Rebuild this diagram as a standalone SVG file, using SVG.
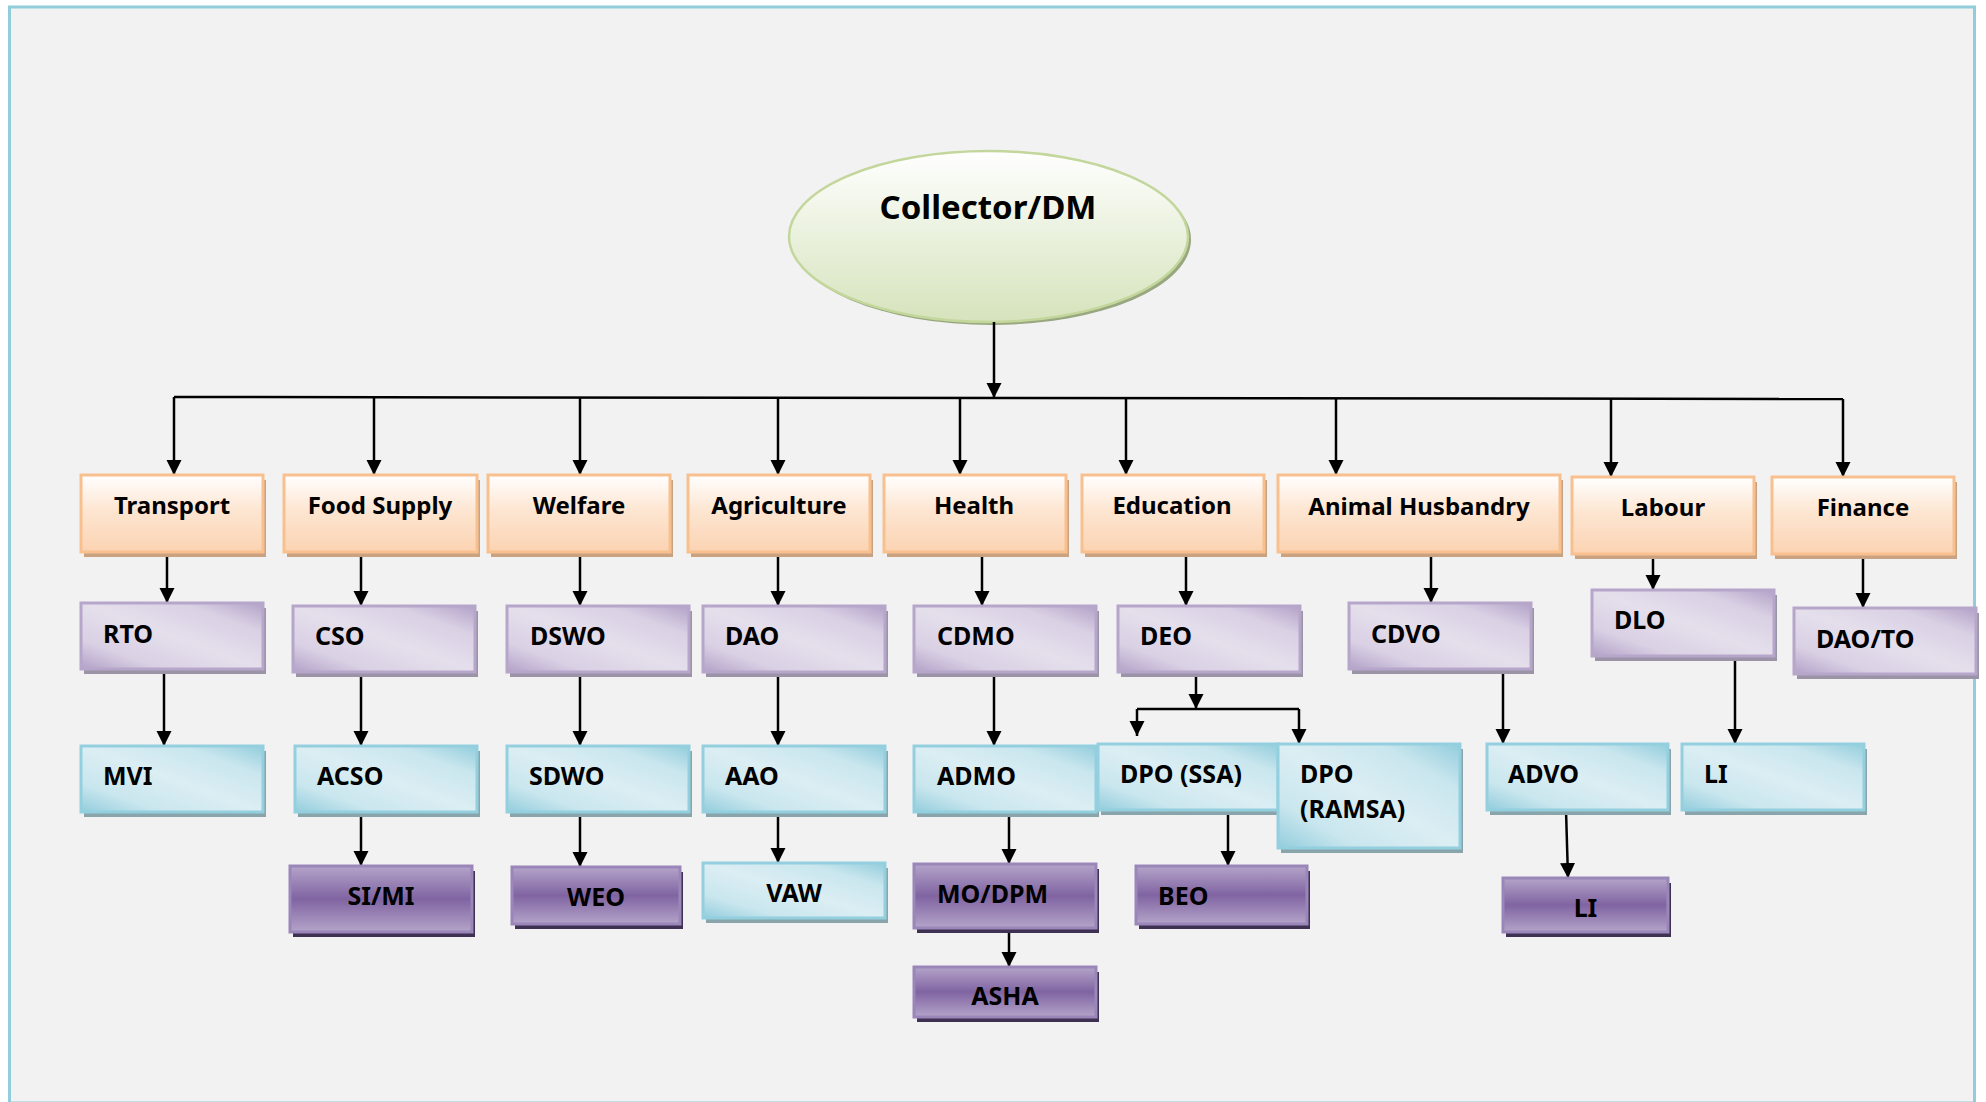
<svg xmlns="http://www.w3.org/2000/svg" width="1986" height="1102" viewBox="0 0 1986 1102">
<defs>
<linearGradient id="gPeach" x1="0" y1="0" x2="0" y2="1">
<stop offset="0" stop-color="#ffffff"/><stop offset="0.45" stop-color="#fde6d2"/><stop offset="1" stop-color="#fbd3b2"/>
</linearGradient>
<linearGradient id="gLav" x1="0" y1="1" x2="1" y2="0">
<stop offset="0" stop-color="#b2a1c7"/><stop offset="0.22" stop-color="#d9d0e4"/><stop offset="0.5" stop-color="#e5dfec"/><stop offset="0.78" stop-color="#d9d0e4"/><stop offset="1" stop-color="#b2a1c7"/>
</linearGradient>
<linearGradient id="gCyan" x1="0" y1="1" x2="1" y2="0">
<stop offset="0" stop-color="#92cddc"/><stop offset="0.22" stop-color="#c9e6ee"/><stop offset="0.5" stop-color="#dbeef3"/><stop offset="0.78" stop-color="#c9e6ee"/><stop offset="1" stop-color="#92cddc"/>
</linearGradient>
<linearGradient id="gPur" x1="0" y1="0" x2="0" y2="1">
<stop offset="0" stop-color="#b4a4c9"/><stop offset="0.5" stop-color="#8064a2"/><stop offset="1" stop-color="#b4a4c9"/>
</linearGradient>
<linearGradient id="gEll" x1="0" y1="0" x2="0" y2="1">
<stop offset="0" stop-color="#ffffff"/><stop offset="0.5" stop-color="#eaf1dd"/><stop offset="1" stop-color="#d6e3bc"/>
</linearGradient>
<marker id="arr" markerUnits="userSpaceOnUse" markerWidth="16" markerHeight="16" refX="15" refY="7.5" orient="auto">
<path d="M0,0 L15,7.5 L0,15 z" fill="#000"/>
</marker>
<style>
.peach{fill:url(#gPeach);stroke:#f9c08f;stroke-width:3}
.peachS{fill:#c9a282}
.lav{fill:url(#gLav);stroke:#b6a6ca;stroke-width:3}
.lavS{fill:#9b93a6}
.cyan{fill:url(#gCyan);stroke:#93cfde;stroke-width:3}
.cyanS{fill:#89a5ab}
.pur{fill:url(#gPur);stroke:#9a86b8;stroke-width:3}
.purS{fill:#3f3151}
text{font-family:"Noto Sans","Liberation Sans",sans-serif;font-weight:bold;fill:#000}
.h{font-size:24px;text-anchor:middle}
.l{font-size:25px}
.c{font-size:25px;text-anchor:middle}
.cn line,.cn path{stroke:#000;stroke-width:2.5;fill:none}
.ar{marker-end:url(#arr)}
</style>
</defs>
<rect x="0" y="0" width="1986" height="1102" fill="#ffffff"/>
<rect x="9.5" y="7" width="1965" height="1096" fill="#f2f2f2" stroke="#92cddc" stroke-width="3"/>

<g id="collector">
<ellipse cx="991.5" cy="239.5" rx="199.5" ry="85.5" fill="#98a77f"/>
<ellipse cx="988.5" cy="236.5" rx="199.5" ry="85.5" fill="url(#gEll)" stroke="#c3d69b" stroke-width="2.5"/>
<text x="988" y="219" font-size="33" text-anchor="middle">Collector/DM</text>
</g>

<g id="connectors" class="cn">
<line class="ar" x1="994" y1="322" x2="994" y2="398"/>
<path d="M174,397 L1843,399"/>
<line class="ar" x1="174" y1="397" x2="174" y2="475"/>
<line class="ar" x1="374" y1="397" x2="374" y2="475"/>
<line class="ar" x1="580" y1="397" x2="580" y2="475"/>
<line class="ar" x1="778" y1="398" x2="778" y2="475"/>
<line class="ar" x1="960" y1="398" x2="960" y2="475"/>
<line class="ar" x1="1126" y1="398" x2="1126" y2="475"/>
<line class="ar" x1="1336" y1="398" x2="1336" y2="475"/>
<line class="ar" x1="1611" y1="399" x2="1611" y2="477"/>
<line class="ar" x1="1843" y1="399" x2="1843" y2="477"/>
<line class="ar" x1="167" y1="552" x2="167" y2="603"/>
<line class="ar" x1="164" y1="669" x2="164" y2="746"/>
<line class="ar" x1="361" y1="552" x2="361" y2="606"/>
<line class="ar" x1="361" y1="672" x2="361" y2="746"/>
<line class="ar" x1="361" y1="812" x2="361" y2="866"/>
<line class="ar" x1="580" y1="552" x2="580" y2="606"/>
<line class="ar" x1="580" y1="672" x2="580" y2="746"/>
<line class="ar" x1="580" y1="812" x2="580" y2="867"/>
<line class="ar" x1="778" y1="552" x2="778" y2="606"/>
<line class="ar" x1="778" y1="672" x2="778" y2="746"/>
<line class="ar" x1="778" y1="812" x2="778" y2="863"/>
<line class="ar" x1="982" y1="551" x2="982" y2="606"/>
<line class="ar" x1="994" y1="671" x2="994" y2="746"/>
<line class="ar" x1="1009" y1="812" x2="1009" y2="864"/>
<line class="ar" x1="1009" y1="928" x2="1009" y2="967"/>
<line class="ar" x1="1186" y1="551" x2="1186" y2="606"/>
<line class="ar" x1="1196" y1="671" x2="1196" y2="709"/>
<path d="M1137,709 L1299,709"/>
<line class="ar" x1="1137" y1="709" x2="1137" y2="736"/>
<line class="ar" x1="1299" y1="709" x2="1299" y2="744"/>
<line class="ar" x1="1228" y1="810" x2="1228" y2="866"/>
<line class="ar" x1="1431" y1="552" x2="1431" y2="603"/>
<line class="ar" x1="1503" y1="669" x2="1503" y2="744"/>
<line class="ar" x1="1566" y1="810" x2="1568" y2="878"/>
<line class="ar" x1="1653" y1="553" x2="1653" y2="590"/>
<line class="ar" x1="1735" y1="656" x2="1735" y2="744"/>
<line class="ar" x1="1863" y1="553" x2="1863" y2="608"/>
</g>

<g id="transport"><rect class="peachS" x="84" y="480" width="182" height="77"/><rect class="peach" x="81" y="475" width="182" height="77"/><text class="h" x="172" y="514">Transport</text></g>
<g id="food-supply"><rect class="peachS" x="287" y="480" width="193" height="77"/><rect class="peach" x="284" y="475" width="193" height="77"/><text class="h" x="380" y="514">Food Supply</text></g>
<g id="welfare"><rect class="peachS" x="491" y="480" width="182" height="77"/><rect class="peach" x="488" y="475" width="182" height="77"/><text class="h" x="579" y="514">Welfare</text></g>
<g id="agriculture"><rect class="peachS" x="691" y="480" width="182" height="77"/><rect class="peach" x="688" y="475" width="182" height="77"/><text class="h" x="779" y="514">Agriculture</text></g>
<g id="health"><rect class="peachS" x="887" y="480" width="182" height="77"/><rect class="peach" x="884" y="475" width="182" height="77"/><text class="h" x="974" y="514">Health</text></g>
<g id="education"><rect class="peachS" x="1085" y="480" width="182" height="77"/><rect class="peach" x="1082" y="475" width="182" height="77"/><text class="h" x="1172" y="514">Education</text></g>
<g id="animal-husbandry"><rect class="peachS" x="1281" y="480" width="282" height="77"/><rect class="peach" x="1278" y="475" width="282" height="77"/><text class="h" x="1419" y="515">Animal Husbandry</text></g>
<g id="labour"><rect class="peachS" x="1575" y="482" width="182" height="77"/><rect class="peach" x="1572" y="477" width="182" height="77"/><text class="h" x="1663" y="516">Labour</text></g>
<g id="finance"><rect class="peachS" x="1775" y="482" width="182" height="77"/><rect class="peach" x="1772" y="477" width="182" height="77"/><text class="h" x="1863" y="516">Finance</text></g>

<g id="rto"><rect class="lavS" x="84" y="608" width="182" height="66"/><rect class="lav" x="81" y="603" width="182" height="66"/><text class="l" x="103" y="643">RTO</text></g>
<g id="cso"><rect class="lavS" x="296" y="611" width="182" height="66"/><rect class="lav" x="293" y="606" width="182" height="66"/><text class="l" x="315" y="645">CSO</text></g>
<g id="dswo"><rect class="lavS" x="510" y="611" width="182" height="66"/><rect class="lav" x="507" y="606" width="182" height="66"/><text class="l" x="530" y="645">DSWO</text></g>
<g id="dao"><rect class="lavS" x="706" y="611" width="182" height="66"/><rect class="lav" x="703" y="606" width="182" height="66"/><text class="l" x="725" y="645">DAO</text></g>
<g id="cdmo"><rect class="lavS" x="917" y="611" width="182" height="66"/><rect class="lav" x="914" y="606" width="182" height="66"/><text class="l" x="937" y="645">CDMO</text></g>
<g id="deo"><rect class="lavS" x="1121" y="611" width="182" height="66"/><rect class="lav" x="1118" y="606" width="182" height="66"/><text class="l" x="1140" y="645">DEO</text></g>
<g id="cdvo"><rect class="lavS" x="1352" y="608" width="182" height="66"/><rect class="lav" x="1349" y="603" width="182" height="66"/><text class="l" x="1371" y="643">CDVO</text></g>
<g id="dlo"><rect class="lavS" x="1595" y="595" width="182" height="66"/><rect class="lav" x="1592" y="590" width="182" height="66"/><text class="l" x="1614" y="629">DLO</text></g>
<g id="dao-to"><rect class="lavS" x="1797" y="613" width="182" height="66"/><rect class="lav" x="1794" y="608" width="182" height="66"/><text class="l" x="1816" y="648">DAO/TO</text></g>

<g id="mvi"><rect class="cyanS" x="84" y="751" width="182" height="66"/><rect class="cyan" x="81" y="746" width="182" height="66"/><text class="l" x="103" y="785">MVI</text></g>
<g id="acso"><rect class="cyanS" x="298" y="751" width="182" height="66"/><rect class="cyan" x="295" y="746" width="182" height="66"/><text class="l" x="317" y="785">ACSO</text></g>
<g id="sdwo"><rect class="cyanS" x="510" y="751" width="182" height="66"/><rect class="cyan" x="507" y="746" width="182" height="66"/><text class="l" x="529" y="785">SDWO</text></g>
<g id="aao"><rect class="cyanS" x="706" y="751" width="182" height="66"/><rect class="cyan" x="703" y="746" width="182" height="66"/><text class="l" x="725" y="785">AAO</text></g>
<g id="admo"><rect class="cyanS" x="917" y="751" width="182" height="66"/><rect class="cyan" x="914" y="746" width="182" height="66"/><text class="l" x="937" y="785">ADMO</text></g>
<g id="dpo-ssa"><rect class="cyanS" x="1101" y="749" width="180" height="66"/><rect class="cyan" x="1098" y="744" width="180" height="66"/><text class="l" x="1120" y="783">DPO (SSA)</text></g>
<g id="dpo-ramsa"><rect class="cyanS" x="1281" y="749" width="182" height="104"/><rect class="cyan" x="1278" y="744" width="182" height="104"/><text class="l" x="1300" y="783">DPO</text><text class="l" x="1300" y="818">(RAMSA)</text></g>
<g id="advo"><rect class="cyanS" x="1490" y="749" width="181" height="66"/><rect class="cyan" x="1487" y="744" width="181" height="66"/><text class="l" x="1508" y="783">ADVO</text></g>
<g id="li-labour"><rect class="cyanS" x="1685" y="749" width="182" height="66"/><rect class="cyan" x="1682" y="744" width="182" height="66"/><text class="l" x="1704" y="783">LI</text></g>
<g id="vaw"><rect class="cyanS" x="706" y="868" width="182" height="55"/><rect class="cyan" x="703" y="863" width="182" height="55"/><text class="c" x="794" y="902">VAW</text></g>

<g id="si-mi"><rect class="purS" x="293" y="871" width="182" height="66"/><rect class="pur" x="290" y="866" width="182" height="66"/><text class="c" x="381" y="905">SI/MI</text></g>
<g id="weo"><rect class="purS" x="515" y="872" width="168" height="57"/><rect class="pur" x="512" y="867" width="168" height="57"/><text class="c" x="596" y="906">WEO</text></g>
<g id="mo-dpm"><rect class="purS" x="917" y="869" width="182" height="64"/><rect class="pur" x="914" y="864" width="182" height="64"/><text class="l" x="937" y="903">MO/DPM</text></g>
<g id="asha"><rect class="purS" x="917" y="972" width="182" height="50"/><rect class="pur" x="914" y="967" width="182" height="50"/><text class="c" x="1005" y="1005">ASHA</text></g>
<g id="beo"><rect class="purS" x="1139" y="871" width="171" height="58"/><rect class="pur" x="1136" y="866" width="171" height="58"/><text class="l" x="1158" y="905">BEO</text></g>
<g id="li-ah"><rect class="purS" x="1506" y="883" width="165" height="54"/><rect class="pur" x="1503" y="878" width="165" height="54"/><text class="c" x="1585.5" y="917">LI</text></g>
</svg>
